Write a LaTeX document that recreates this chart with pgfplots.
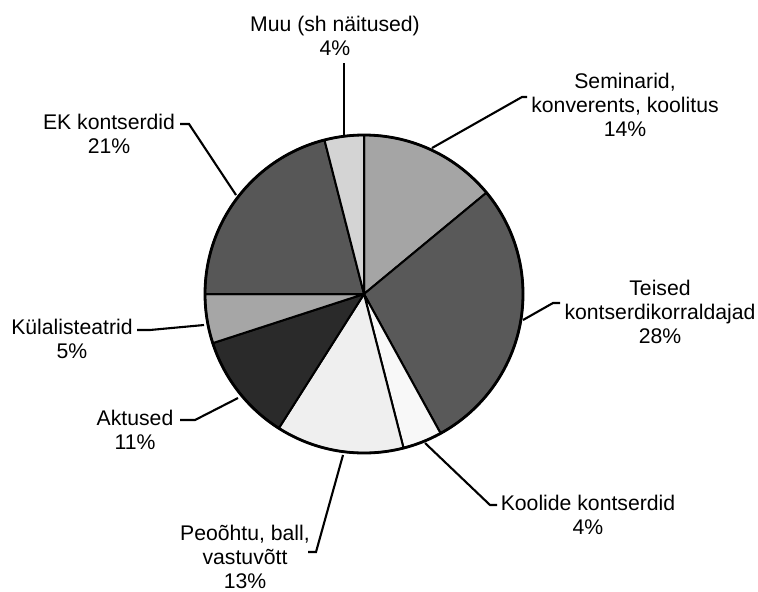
\documentclass[border=0pt]{standalone}
\usepackage{pgfplots}
\pgfplotsset{compat=1.18}
\usepackage{fontspec}
\setmainfont{Liberation Sans}
\definecolor{slice1}{HTML}{A5A5A5}
\definecolor{slice2}{HTML}{595959}
\definecolor{slice3}{HTML}{F8F8F8}
\definecolor{slice4}{HTML}{EFEFEF}
\definecolor{slice5}{HTML}{2A2A2A}
\definecolor{slice6}{HTML}{A6A6A6}
\definecolor{slice7}{HTML}{575757}
\definecolor{slice8}{HTML}{D4D4D4}
\begin{document}
\begin{tikzpicture}
\begin{axis}[
  x=0.5pt, y=0.5pt,
  xmin=0, xmax=758, ymin=0, ymax=591,
  hide axis, clip=false,
  scale only axis,
]
\path (axis cs:0,0) rectangle (axis cs:758,591);
\def\cum{0}\def\idx{0}
\pgfplotsforeachungrouped \v in {14,28,4,13,11,5,21,4}{%
  \pgfmathtruncatemacro\idx{\idx+1}%
  \pgfmathsetmacro\a{90-3.6*\cum}%
  \pgfmathsetmacro\b{90-3.6*(\cum+\v)}%
  \edef\tmp{\noexpand\filldraw[fill=slice\idx, draw=black, line width=1pt, line join=round] (axis cs:364,297) -- ++(\a:79.5pt) arc[start angle=\a, end angle=\b, radius=79.5pt] -- cycle;}%
  \tmp
  \pgfmathsetmacro\cum{\cum+\v}%
}
\draw[line width=1.4pt] (axis cs:364,297) circle[radius=79.5pt];
% leader lines
\begin{scope}[line width=1.05pt]
\draw (axis cs:344,528) -- (axis cs:344,454);
\draw (axis cs:432,443) -- (axis cs:522,494) -- (axis cs:527,494);
\draw (axis cs:523,271) -- (axis cs:553,288) -- (axis cs:560,288);
\draw (axis cs:425,148) -- (axis cs:490,86) -- (axis cs:497,86);
\draw (axis cs:343,136) -- (axis cs:316,39) -- (axis cs:308,39);
\draw (axis cs:238,193) -- (axis cs:195,171) -- (axis cs:180,171);
\draw (axis cs:204,266) -- (axis cs:150,261) -- (axis cs:137,261);
\draw (axis cs:236,396) -- (axis cs:189,467) -- (axis cs:180,467);
\end{scope}
% labels
\begin{scope}[every node/.style={align=center, inner sep=0pt, font=\fontsize{10.6}{12}\selectfont}]
\node at (axis cs:335,555.5) {Muu (sh näitused)\\4\%};
\node at (axis cs:625,486) {Seminarid,\\konverents, koolitus\\14\%};
\node at (axis cs:660,279) {Teised\\kontserdikorraldajad\\28\%};
\node at (axis cs:588,76) {Koolide kontserdid\\4\%};
\node at (axis cs:245,34) {Peoõhtu, ball,\\vastuvõtt\\13\%};
\node at (axis cs:135,161.5) {Aktused\\11\%};
\node at (axis cs:72,252.5) {Külalisteatrid\\5\%};
\node at (axis cs:109,457.5) {EK kontserdid\\21\%};
\end{scope}
\end{axis}
\end{tikzpicture}
\end{document}
